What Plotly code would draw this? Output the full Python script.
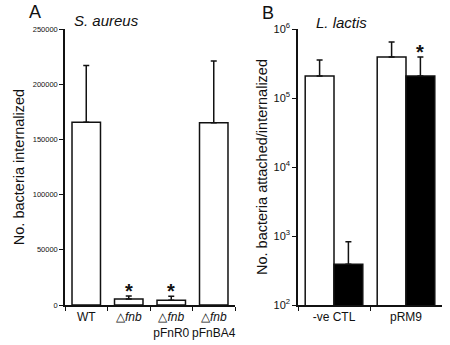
import numpy as np
import plotly.graph_objects as go

# Panel A: S. aureus internalization
a_labels = ["WT", "\u25b3<i>fnb</i>", "\u25b3<i>fnb</i><br>pFnR0", "\u25b3<i>fnb</i><br>pFnBA4"]
a_values = [165500, 5500, 4200, 165000]
a_errors = [51500, 2700, 3800, 56000]
a_signif = [False, True, True, False]
a_ticks = [0, 50000, 100000, 150000, 200000, 250000]

# Panel B: L. lactis attachment/internalization
b_groups = ["-ve CTL", "pRM9"]
b_open = [208000, 393000]
b_open_err = [148000, 257000]
b_solid = [390, 208000]
b_solid_err = [436, 185000]
b_solid_signif = [False, True]
b_tickvals = [100, 1000, 10000, 100000, 1000000]
b_ticktext = ["10<sup>2</sup>", "10<sup>3</sup>", "10<sup>4</sup>", "10<sup>5</sup>", "10<sup>6</sup>"]

FONT = "Liberation Sans, Arial, sans-serif"
INK = "#111111"

fig = go.Figure()

def err(vals):
    return dict(type="data", array=vals, arrayminus=[0] * len(vals), symmetric=False,
                color=INK, thickness=1.5, width=3)

fig.add_trace(go.Bar(
    x=a_labels, y=a_values, width=0.67,
    marker=dict(color="white", line=dict(color=INK, width=1.5)),
    error_y=err(a_errors), xaxis="x", yaxis="y", showlegend=False,
))

fig.add_trace(go.Bar(
    x=b_groups, y=b_open, width=0.4, offset=-0.4,
    marker=dict(color="white", line=dict(color=INK, width=1.5)),
    error_y=err(b_open_err), xaxis="x2", yaxis="y2", showlegend=False,
))
fig.add_trace(go.Bar(
    x=b_groups, y=b_solid, width=0.4, offset=0.0,
    marker=dict(color="black", line=dict(color=INK, width=1.5)),
    error_y=err(b_solid_err), xaxis="x2", yaxis="y2", showlegend=False,
))

annotations = []
for lab, v, e, s in zip(a_labels, a_values, a_errors, a_signif):
    if s:
        annotations.append(dict(x=lab, y=v + e, xref="x", yref="y", text="<b>*</b>",
                                showarrow=False, yanchor="bottom", yshift=-8,
                                font=dict(size=20, color=INK, family=FONT)))
for i, (g, v, e, s) in enumerate(zip(b_groups, b_solid, b_solid_err, b_solid_signif)):
    if s:
        annotations.append(dict(x=i + 0.2, y=np.log10(v + e), xref="x2", yref="y2", text="<b>*</b>",
                                showarrow=False, yanchor="bottom", yshift=-8,
                                font=dict(size=20, color=INK, family=FONT)))

# Panel letters and organism names
annotations += [
    dict(x=35 / 450, y=1 - 12 / 345, xref="paper", yref="paper", text="A", showarrow=False,
         font=dict(size=18, color=INK, family=FONT), xanchor="center", yanchor="middle"),
    dict(x=268 / 450, y=1 - 13 / 345, xref="paper", yref="paper", text="B", showarrow=False,
         font=dict(size=18, color=INK, family=FONT), xanchor="center", yanchor="middle"),
    dict(x=106 / 450, y=1 - 21 / 345, xref="paper", yref="paper", text="<i>S. aureus</i>", showarrow=False,
         font=dict(size=15, color=INK, family=FONT), xanchor="center", yanchor="middle"),
    dict(x=341 / 450, y=1 - 22 / 345, xref="paper", yref="paper", text="<i>L. lactis</i>", showarrow=False,
         font=dict(size=15, color=INK, family=FONT), xanchor="center", yanchor="middle"),
]

axis_common = dict(showgrid=False, zeroline=False, showline=True, linecolor=INK, linewidth=1.5,
                   ticks="outside", ticklen=4, tickwidth=1.2, tickcolor=INK, automargin=False)

ydom = [40 / 345, 316 / 345]

fig.update_layout(
    width=450, height=345, margin=dict(l=0, r=0, t=0, b=0),
    paper_bgcolor="white", plot_bgcolor="white",
    font=dict(family=FONT, color=INK),
    xaxis=dict(domain=[65 / 450, 235 / 450], range=[-0.5, 3.5], type="category",
               tickson="boundaries", tickangle=0, tickfont=dict(size=12), anchor="y", **axis_common),
    yaxis=dict(domain=ydom, range=[0, 250000], tickvals=a_ticks, tickformat="d",
               tickfont=dict(size=7.5), anchor="x",
               title=dict(text="No. bacteria internalized", font=dict(size=14.5), standoff=5),
               **axis_common),
    xaxis2=dict(domain=[298 / 450, 442 / 450], range=[-0.5, 1.5], type="category",
                tickson="boundaries", tickangle=0, tickfont=dict(size=12), anchor="y2", **axis_common),
    yaxis2=dict(domain=ydom, type="log", range=[2, 6], tickvals=b_tickvals, ticktext=b_ticktext,
                tickfont=dict(size=11), anchor="x2",
                title=dict(text="No. bacteria attached/internalized", font=dict(size=14.5), standoff=2),
                **axis_common),
    annotations=annotations,
)

fig.write_html("out.html")
